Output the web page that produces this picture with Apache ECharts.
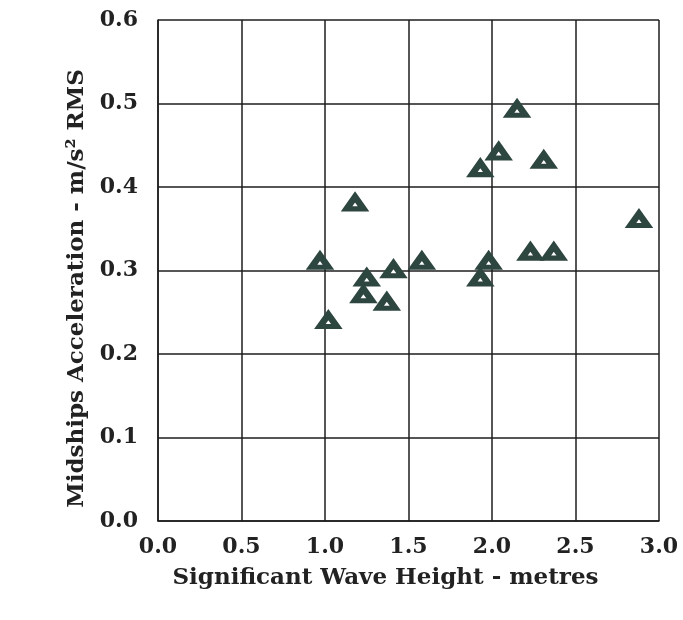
<!DOCTYPE html>
<html>
<head>
<meta charset="utf-8" />
<title>Midships Acceleration</title>
</head>
<body style="margin:0;background:#fff;">
<div id="echart" style="width:683px;height:620px;"></div>
<script src="https://cdn.jsdelivr.net/npm/echarts@6/dist/echarts.min.js"></script>
<script type="text/javascript">
// wave height (m) and acceleration (m/s^2 RMS)
var waveHeight = [2.15, 2.04, 1.93, 2.31, 1.18, 2.88, 0.97, 2.23, 2.37, 1.58, 1.98, 1.41, 1.25, 1.93, 1.23, 1.37, 1.02];
var accel      = [0.493, 0.442, 0.422, 0.432, 0.381, 0.361, 0.311, 0.322, 0.322, 0.311, 0.311, 0.301, 0.291, 0.291, 0.271, 0.262, 0.240];
var xTicks = [0, 0.5, 1, 1.5, 2, 2.5, 3];
var yTicks = [0, 0.1, 0.2, 0.3, 0.4, 0.5, 0.6];

var points = [];
for (var i = 0; i < waveHeight.length; i++) {
    points.push([waveHeight[i], accel[i]]);
}

var font = 'DejaVu Serif';
var lineCol = '#1e1e1e';

var myChart = echarts.init(document.getElementById("echart"));
var option = {
    backgroundColor: '#fff',
    animation: false,
    grid: { left: 158, top: 20, width: 501, height: 501 },
    xAxis: {
        type: 'value',
        min: xTicks[0],
        max: xTicks[xTicks.length - 1],
        interval: 0.5,
        name: 'Significant Wave Height - metres',
        nameLocation: 'middle',
        nameGap: 46,
        nameTextStyle: { fontFamily: font, fontWeight: 'bold', fontSize: 23, color: '#222', padding: [0, 46, 0, 0] },
        axisLine: { lineStyle: { color: lineCol, width: 1.5 } },
        axisTick: { show: false },
        splitLine: { lineStyle: { color: lineCol, width: 1.5 } },
        axisLabel: {
            fontFamily: font, fontWeight: 'bold', fontSize: 22, color: '#222', margin: 15,
            formatter: function (v) { return v.toFixed(1); }
        }
    },
    yAxis: {
        type: 'value',
        min: yTicks[0],
        max: yTicks[yTicks.length - 1],
        interval: 0.1,
        name: 'Midships Acceleration - m/s² RMS',
        nameLocation: 'middle',
        nameGap: 68,
        nameTextStyle: { fontFamily: font, fontWeight: 'bold', fontSize: 23, color: '#222', padding: [0, 36, 0, 0] },
        axisLine: { lineStyle: { color: lineCol, width: 1.5 } },
        axisTick: { show: false },
        splitLine: { lineStyle: { color: lineCol, width: 1.5 } },
        axisLabel: {
            fontFamily: font, fontWeight: 'bold', fontSize: 22, color: '#222', margin: 20,
            formatter: function (v) { return v.toFixed(1); }
        }
    },
    series: [
        {
            type: 'scatter',
            data: points,
            symbol: 'triangle',
            symbolSize: [17, 12],
            itemStyle: { color: '#ffffff', borderColor: '#2e4640', borderWidth: 6, opacity: 1 }
        }
    ]
};
option && myChart.setOption(option);
</script>
</body>
</html>
